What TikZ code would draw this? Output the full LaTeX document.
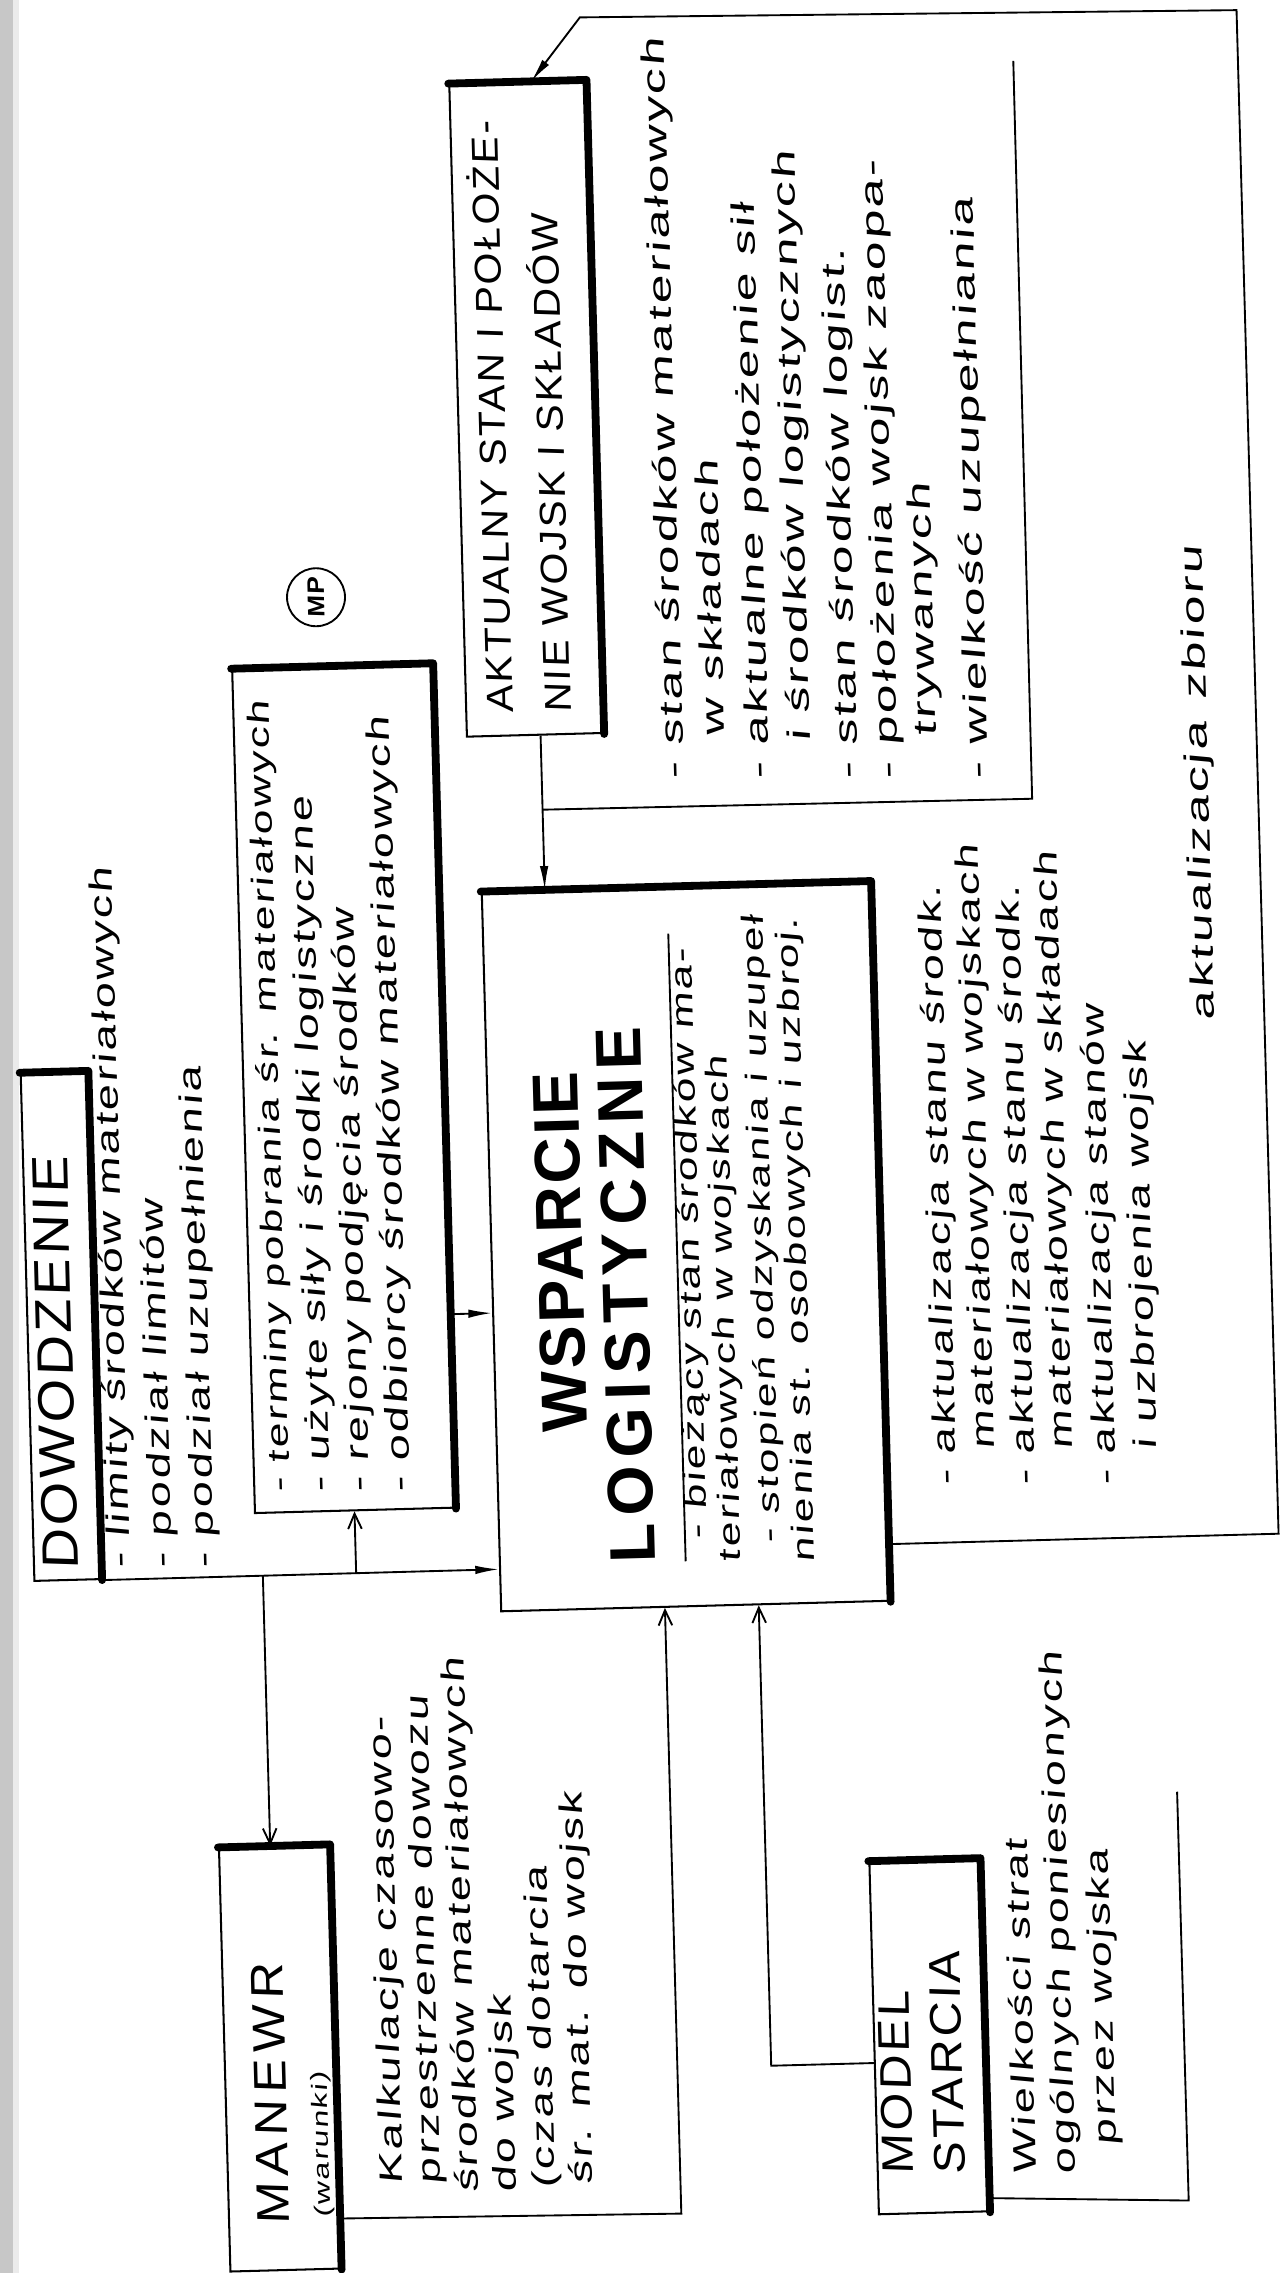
\documentclass[tikz,border=0pt]{standalone}
\usepackage{fontspec}
\usetikzlibrary{arrows.meta,calc}
\newfontfamily\handf[FakeSlant=0.12,FakeStretch=1.45,LetterSpace=8]{Liberation Sans}
\newfontfamily\handw[FakeSlant=0.12,FakeStretch=1.6,LetterSpace=8]{Liberation Sans}
\newfontfamily\capsf[FakeSlant=0.06,FakeStretch=1.1,LetterSpace=6]{Liberation Sans}
\newfontfamily\heavyf[FakeStretch=1.0,LetterSpace=4]{Liberation Sans}
\begin{document}
\begin{tikzpicture}[x=0.03cm, y=-0.03cm,
  frame/.style={draw, line width=1.2pt, rotate=1.55, inner sep=0pt},
  heavy/.style={line width=4.6pt, line cap=round, line join=round},
  conn/.style={line width=1.1pt},
  tipfill/.style={-{Latex[length=14pt,width=5pt]}},
  tipopen/.style={-{Straight Barb[length=9pt,width=8pt]}},
  bodytxt/.style={rotate=91.55, anchor=base west, inner sep=0pt,
    font=\handf\fontsize{19}{22}\selectfont},
  tighttxt/.style={bodytxt, font=\handf\fontsize{18}{21}\selectfont},
  widetxt/.style={bodytxt, font=\handw\fontsize{19}{22}\selectfont},
  captxt/.style={rotate=91.55, anchor=base west, inner sep=0pt,
    font=\capsf\fontsize{#1}{#1}\selectfont},
  titletxt/.style={rotate=91.55, anchor=base west, inner sep=0pt,
    font=\heavyf\bfseries\fontsize{38}{38}\selectfont}]

% page
\fill[white] (0,0) rectangle (883,1568);
\useasboundingbox (0,0) rectangle (883,1568);
\fill[black!22] (0,0) rectangle (9,1568);
\fill[black!8] (9,0) rectangle (13,1568);

% boxes
\node[frame, minimum width={46*0.03cm}, minimum height={350*0.03cm}] (dow) at (42,915) {};
\node[frame, minimum width={138*0.03cm}, minimum height={582*0.03cm}] (mp) at (237,751) {};
\node[frame, minimum width={268*0.03cm}, minimum height={496*0.03cm}] (wsp) at (473,860) {};
\node[frame, minimum width={94*0.03cm}, minimum height={450*0.03cm}] (akt) at (363,282) {};
\node[frame, minimum width={76*0.03cm}, minimum height={292*0.03cm}] (man) at (193,1420) {};
\node[frame, minimum width={76*0.03cm}, minimum height={243*0.03cm}] (mod) at (641,1405) {};
\foreach \b in {dow,mp,wsp,akt,man,mod}
  \draw[heavy] (\b.north west) -- (\b.north east) -- (\b.south east);

% MP marker
\node[draw, circle, line width=1.1pt, minimum size={40*0.03cm}, inner sep=0pt] (mpc) at (218,412) {};
\node[rotate=91.55, inner sep=0pt, font=\capsf\bfseries\fontsize{14}{14}\selectfont] (mpt) at (mpc) {MP};

% connectors
\coordinate (wspL1) at ($(wsp.north west)!(dow.south east)!(wsp.south west)$);
\draw[conn, tipfill] (dow.south east) -- (wspL1);
\coordinate (j1) at ($(dow.south east)!0.405!(wspL1)$);
\draw[conn, tipopen] (j1) -- ($(man.north west)!(j1)!(man.north east)$);
\coordinate (j2) at ($(dow.south east)!0.64!(wspL1)$);
\draw[conn, tipopen] (j2) -- ($(mp.south west)!(j2)!(mp.south east)$);

\coordinate (mpR) at ($(mp.north east)!0.77!(mp.south east)$);
\draw[conn, tipfill] (mpR) -- ($(wsp.north west)!(mpR)!(wsp.south west)$);

\coordinate (aktB) at ($(akt.south west)!0.54!(akt.south east)$);
\coordinate (wspT) at ($(wsp.north west)!(aktB)!(wsp.north east)$);
\draw[conn, tipfill] (aktB) -- (wspT);
\coordinate (j3) at ($(aktB)!0.48!(wspT)$);
\coordinate (akb1) at (712,551);
\coordinate (akb2) at (699,42);
\draw[conn] (j3) -- (akb1) -- (akb2);

\coordinate (wspR) at ($(wsp.north east)!0.92!(wsp.south east)$);
\coordinate (fb1) at (882,1058);
\coordinate (fb2) at (853,7);
\coordinate (fb3) at (400,12);
\coordinate (aktT) at ($(akt.north west)!0.6!(akt.north east)$);
\draw[conn, tipfill] (wspR) -- (fb1) -- (fb2) -- (fb3) -- (aktT);

\coordinate (manR) at ($(man.north east)!0.88!(man.south east)$);
\coordinate (mb1) at (470,1527);
\draw[conn, tipopen] (manR) -- (mb1) -- ($(wsp.south west)!(mb1)!(wsp.south east)$);

\coordinate (modL) at ($(mod.north west)!0.57!(mod.south west)$);
\coordinate (mc1) at (532,1425);
\draw[conn, tipopen] (modL) -- (mc1) -- ($(wsp.south west)!(mc1)!(wsp.south east)$);

\coordinate (modR) at ($(mod.north east)!0.96!(mod.south east)$);
\coordinate (mdb1) at (820,1518);
\coordinate (mdb2) at (812,1236);
\draw[conn] (modR) -- (mdb1) -- (mdb2);

\coordinate (sepT) at (461,644);
\coordinate (sepB) at (473,1077);
\draw[conn] (sepB) -- (sepT);

% titles
\node[captxt=30] (dwt) at (54,1083) {DOWODZENIE};
\node[captxt=22] (akt1) at (354,492) {AKTUALNY STAN I POŁOŻE-};
\node[captxt=22] (akt2) at (394,492) {NIE WOJSK I SKŁADÓW};
\node[titletxt] (wst1) at (405,988) {WSPARCIE};
\node[titletxt] (wst2) at (452,1078) {\addfontfeature{LetterSpace=12}LOGISTYCZNE};
\node[captxt=27] (mnt1) at (200,1535) {\addfontfeature{LetterSpace=14}MANEWR};
\node[bodytxt, font=\handf\fontsize{13}{15}\selectfont] (mnt2) at (228,1530) {(warunki)};
\node[captxt=26] (mdt1) at (630,1500) {MODEL};
\node[captxt=26] (mdt2) at (666,1500) {STARCIA};

% DOWODZENIE outputs
\node[bodytxt] (dw1) at (90,1082) {- limity środków materiałowych};
\node[bodytxt] (dw2) at (119,1082) {- podział limitów};
\node[bodytxt] (dw3) at (148,1082) {- podział uzupełnienia};

% MP box
\node[tighttxt] (mp1) at (200,1030) {- terminy pobrania śr. materiałowych};
\node[bodytxt] (mp2) at (228,1030) {- użyte siły i środki logistyczne};
\node[bodytxt] (mp3) at (255,1030) {- rejony podjęcia środków};
\node[bodytxt] (mp4) at (283,1030) {- odbiorcy środków materiałowych};

% AKTUALNY STAN outputs
\node[widetxt] (ak1) at (472,538) {- stan środków materiałowych};
\node[widetxt] (ak2) at (500,508) {w składach};
\node[widetxt] (ak3) at (531,538) {- aktualne położenie sił};
\node[widetxt] (ak4) at (559,512) {i środków logistycznych};
\node[widetxt] (ak5) at (592,538) {- stan środków logist.};
\node[widetxt] (ak6) at (620,538) {- położenia wojsk zaopa-};
\node[widetxt] (ak7) at (646,508) {trywanych};
\node[widetxt] (ak8) at (682,538) {- wielkość uzupełniania};

% WSPARCIE contents
\node[tighttxt] (ws1) at (488,1062) {- bieżący stan środków ma-};
\node[tighttxt] (ws2) at (511,1078) {teriałowych w wojskach};
\node[tighttxt] (ws3) at (538,1065) {- stopień odzyskania i uzupeł};
\node[tighttxt] (ws4) at (562,1078) {nienia st. osobowych i uzbroj.};

% WSPARCIE outputs
\node[bodytxt] (au1) at (660,1025) {- aktualizacja stanu środk.};
\node[bodytxt] (au2) at (686,1000) {materiałowych w wojskach};
\node[bodytxt] (au3) at (714,1025) {- aktualizacja stanu środk.};
\node[bodytxt] (au4) at (740,1000) {materiałowych w składach};
\node[bodytxt] (au5) at (770,1025) {- aktualizacja stanów};
\node[bodytxt] (au6) at (798,1000) {i uzbrojenia wojsk};
\node[widetxt] (azb) at (838,704) {aktualizacja\hspace{0.7em}zbioru};

% MANEWR outputs
\node[bodytxt] (mn1) at (278,1507) {Kalkulacje czasowo-};
\node[bodytxt] (mn2) at (304,1507) {przestrzenne dowozu};
\node[bodytxt] (mn3) at (330,1513) {środków materiałowych};
\node[bodytxt] (mn4) at (356,1513) {do wojsk};
\node[bodytxt] (mn5) at (383,1510) {(czas dotarcia};
\node[bodytxt] (mn6) at (409,1507) {śr. mat. do wojsk};

% MODEL STARCIA outputs
\node[bodytxt] (md1) at (715,1500) {Wielkości strat};
\node[bodytxt] (md2) at (742,1500) {ogólnych poniesionych};
\node[bodytxt] (md3) at (770,1480) {przez wojska};
\end{tikzpicture}
\end{document}
